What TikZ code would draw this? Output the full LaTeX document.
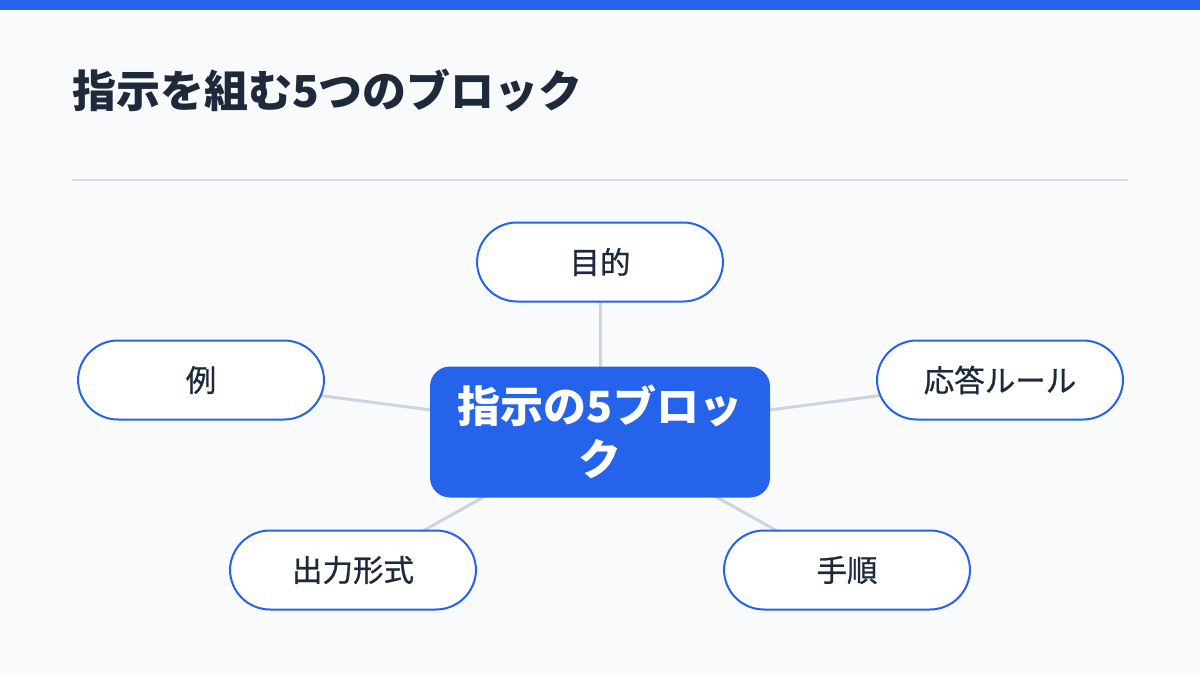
\documentclass[tikz,border=0pt]{standalone}
\usepackage{fontspec}
\setmainfont{Noto Sans CJK JP}
\newfontfamily\midfont[FakeBold=0.8]{Noto Sans CJK JP}
\usetikzlibrary{backgrounds}
\definecolor{accent}{HTML}{2563EB}
\definecolor{ink}{HTML}{1E293B}
\definecolor{edge}{HTML}{CBD5E1}
\definecolor{paper}{HTML}{F8FAFC}
\definecolor{rulegray}{HTML}{D5DAE1}

\begin{document}
\begin{tikzpicture}[x=1pt, y=-1pt,
  block/.style={draw=accent, line width=2pt, fill=white, rounded corners=40pt,
    minimum width=246pt, minimum height=79pt, text=ink,
    font=\fontsize{30.5}{36}\midfont},
  hub/.style={fill=accent, rounded corners=20pt, minimum width=340pt,
    minimum height=131pt, align=center, text=white,
    font=\fontsize{43}{53}\selectfont\bfseries},
  link/.style={draw=edge, line width=3pt}]
  \useasboundingbox (0,0) rectangle (1200,675);
  % title
  \node[anchor=west, inner sep=0pt, text=ink,
    font=\fontsize{44}{50}\selectfont\bfseries] (title) at (72,91) {指示を組む5つのブロック};
  \coordinate (ruleL) at (72,180);
  \coordinate (ruleR) at (1128,180);
  % blocks
  \node[hub] (hub) at (600,432) {指示の5ブロッ\\ク};
  \node[block] (goal)  at (600,262) {目的};
  \node[block] (ex)    at (201,380) {例};
  \node[block] (rules) at (1000,380) {応答ルール};
  \node[block] (form)  at (353,570) {出力形式};
  \node[block] (steps) at (847,570) {手順};
  \begin{scope}[on background layer]
    \fill[paper] (0,0) rectangle (1200,675);
    \fill[accent] (0,0) rectangle (1200,10);
    \draw[rulegray, line width=1.5pt] (ruleL) -- (ruleR);
    \foreach \n in {goal,ex,rules,form,steps}
      \draw[link] (hub.center) -- (\n.center);
  \end{scope}
\end{tikzpicture}
\end{document}
